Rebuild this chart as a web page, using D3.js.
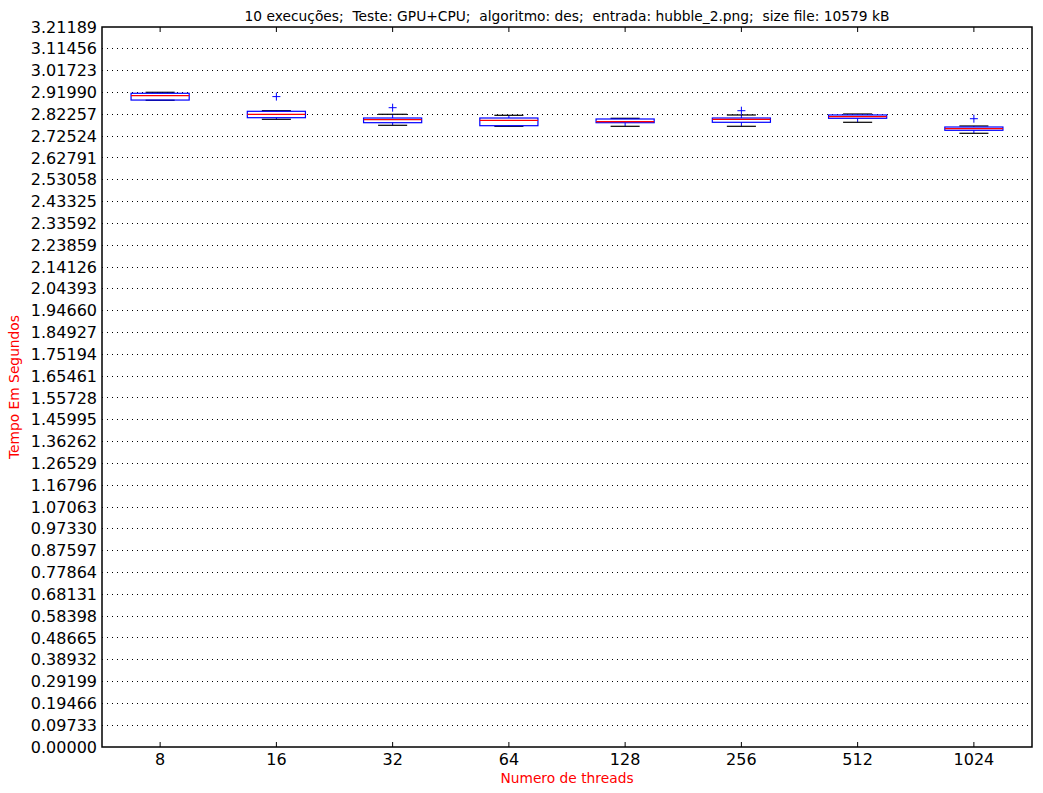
<!DOCTYPE html>
<html><head><meta charset="utf-8">
<script src="https://cdn.jsdelivr.net/npm/d3@7"></script>
<style>body{margin:0;background:#fff;} text{font-family:"DejaVu Sans",sans-serif;}</style>
</head><body>
<svg id="c" width="1043" height="793"></svg>
<script>
const categories = ["8","16","32","64","128","256","512","1024"];
const whiskerLow  = [2.8850, 2.8002, 2.7734, 2.7689, 2.7689, 2.7689, 2.7868, 2.7377];
const q1          = [2.8860, 2.8073, 2.7850, 2.7716, 2.7850, 2.7868, 2.8046, 2.7511];
const medians     = [2.9055, 2.8225, 2.7984, 2.7957, 2.7895, 2.8001, 2.8118, 2.7582];
const q3          = [2.9162, 2.8358, 2.8059, 2.8059, 2.8015, 2.8059, 2.8194, 2.7658];
const whiskerHigh = [2.9206, 2.8385, 2.8225, 2.8180, 2.8046, 2.8194, 2.8238, 2.7703];
const outliers    = [[], [2.9014], [2.8519], [], [], [2.8385], [], [2.8028]];
const yTicks = ["0.00000","0.09733","0.19466","0.29199","0.38932","0.48665","0.58398","0.68131","0.77864","0.87597","0.97330","1.07063","1.16796","1.26529","1.36262","1.45995","1.55728","1.65461","1.75194","1.84927","1.94660","2.04393","2.14126","2.23859","2.33592","2.43325","2.53058","2.62791","2.72524","2.82257","2.91990","3.01723","3.11456","3.21189"];
const title = "10 execuções;  Teste: GPU+CPU;  algoritmo: des;  entrada: hubble_2.png;  size file: 10579 kB";

const L=102, T=27, R=1032, B=747;
const svg = d3.select("#c");
const x = d3.scaleBand().domain(categories).range([L,R]);
const y = d3.scaleLinear().domain([0, 3.21189]).range([B,T]);

// grid
svg.append("g").selectAll("line").data(yTicks.slice(1,-1)).join("line")
  .attr("x1",L).attr("x2",R).attr("y1",d=>y(+d)).attr("y2",d=>y(+d))
  .attr("stroke","#000").attr("stroke-width",1).attr("stroke-dasharray","1,4").attr("shape-rendering","crispEdges");

// y axis
const yAxis = d3.axisLeft(y).tickValues(yTicks.map(Number)).tickFormat((d,i)=>yTicks[i]).tickSize(0).tickPadding(5);
const gy = svg.append("g").attr("transform",`translate(${L},0)`).call(yAxis);
gy.select(".domain").remove();
gy.selectAll("text").attr("font-size",16).attr("fill","#000");
// x axis
const xAxis = d3.axisBottom(x).tickSizeInner(-5).tickSizeOuter(0).tickPadding(7);
const gx = svg.append("g").attr("transform",`translate(0,${B})`).call(xAxis);
gx.select(".domain").remove();
gx.selectAll("text").attr("font-size",16).attr("fill","#000");
gx.selectAll("line").attr("stroke","#000");
// top ticks
svg.append("g").selectAll("line").data(categories).join("line")
  .attr("x1",d=>x(d)+x.bandwidth()/2).attr("x2",d=>x(d)+x.bandwidth()/2)
  .attr("y1",T).attr("y2",T+5).attr("stroke","#000");

const bw = x.bandwidth();
const g = svg.append("g");
categories.forEach((c,i)=>{
  const cx = x(c)+bw/2, hw = bw*0.25, cw = bw*0.125;
  g.append("line").attr("x1",cx).attr("x2",cx).attr("y1",y(q3[i])).attr("y2",y(whiskerHigh[i])).attr("stroke","blue").attr("stroke-dasharray","4,2");
  g.append("line").attr("x1",cx).attr("x2",cx).attr("y1",y(q1[i])).attr("y2",y(whiskerLow[i])).attr("stroke","blue").attr("stroke-dasharray","4,2");
  [whiskerHigh[i], whiskerLow[i]].forEach(v=>{
    g.append("line").attr("x1",cx-cw).attr("x2",cx+cw).attr("y1",y(v)).attr("y2",y(v)).attr("stroke","#000").attr("stroke-width",1.2);
  });
  g.append("rect").attr("x",cx-hw).attr("width",2*hw).attr("y",y(q3[i])).attr("height",y(q1[i])-y(q3[i]))
   .attr("fill","none").attr("stroke","blue").attr("stroke-width",1.2);
  g.append("line").attr("x1",cx-hw).attr("x2",cx+hw).attr("y1",y(medians[i])).attr("y2",y(medians[i])).attr("stroke","red").attr("stroke-width",1.2);
  outliers[i].forEach(v=>{
    const py=y(v);
    g.append("path").attr("d",`M${cx-4},${py}H${cx+4}M${cx},${py-4}V${py+4}`).attr("stroke","blue").attr("stroke-width",1);
  });
});

svg.append("rect").attr("x",L).attr("y",T).attr("width",R-L).attr("height",B-T).attr("fill","none").attr("stroke","#000").attr("stroke-width",1.5);

svg.append("text").attr("x",(L+R)/2).attr("y",21).attr("text-anchor","middle").attr("font-size",13.8).style("white-space","pre").text(title);
svg.append("text").attr("x",(L+R)/2).attr("y",783).attr("text-anchor","middle").attr("font-size",13.8).attr("fill","red").text("Numero de threads");
svg.append("text").attr("transform",`translate(19,${(T+B)/2}) rotate(-90)`).attr("text-anchor","middle").attr("font-size",13.8).attr("fill","red").text("Tempo Em Segundos");
</script>
</body></html>
